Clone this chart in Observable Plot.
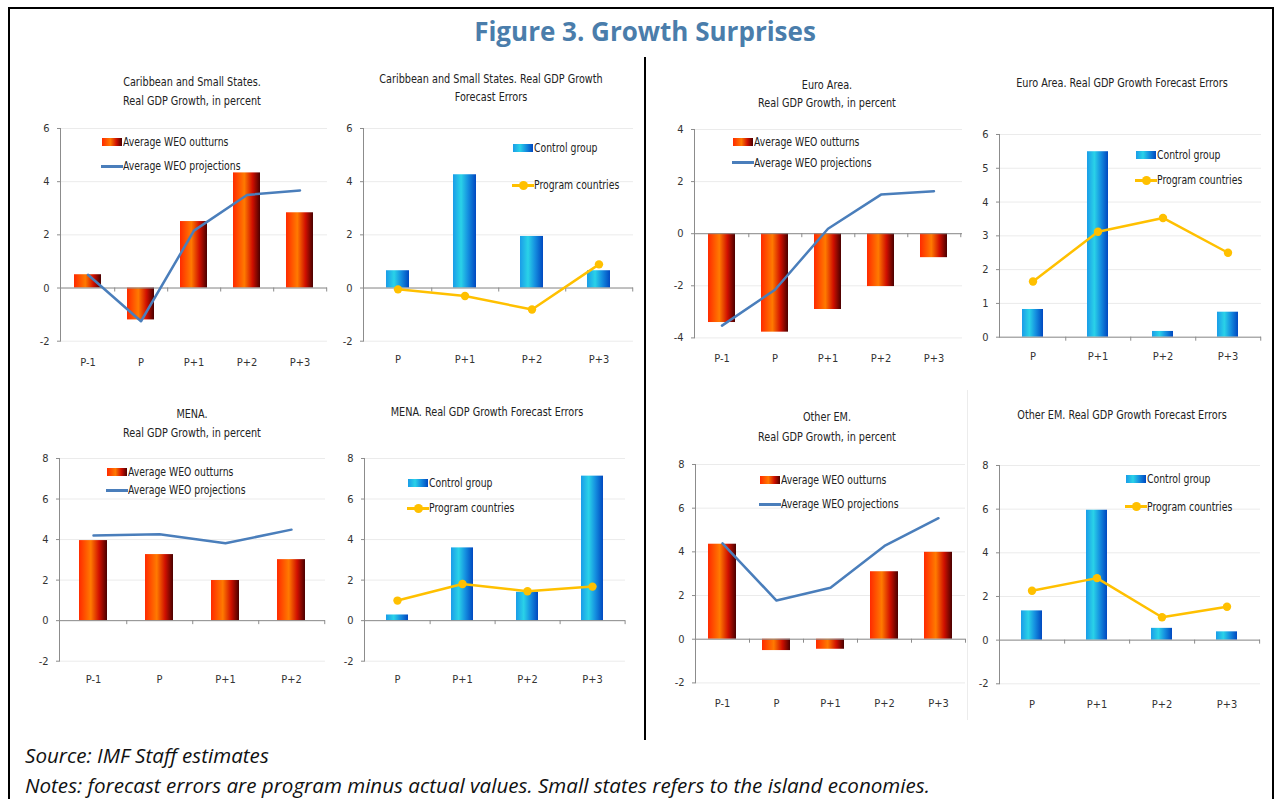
<!DOCTYPE html>
<html>
<head>
<meta charset="utf-8">
<script src="https://cdn.jsdelivr.net/npm/d3@7"></script>
<script src="https://cdn.jsdelivr.net/npm/@observablehq/plot@0.6"></script>
<style>
  html, body { margin: 0; padding: 0; background: #fff; }
  #root { position: relative; width: 1280px; height: 799px; overflow: hidden; background: #fff; }
  .abs { position: absolute; }
  .ct { position: absolute; width: 320px; text-align: center; font-family: "Liberation Sans Narrow","DejaVu Sans Condensed","Arial Narrow",sans-serif; font-size: 12.5px; line-height: 14px; color: #222; white-space: nowrap; transform: scaleX(0.86); transform-origin: 50% 50%; }
  .lg { position: absolute; font-family: "Liberation Sans Narrow","DejaVu Sans Condensed","Arial Narrow",sans-serif; font-size: 12px; line-height: 14px; color: #222; white-space: nowrap; transform: scaleX(0.86); transform-origin: 0 50%; }
</style>
</head>
<body>
<div id="root"></div>
<script>
// ---------------- DATA ----------------
const growthCats5 = ["P-1", "P", "P+1", "P+2", "P+3"];
const growthCats4 = ["P-1", "P", "P+1", "P+2"];
const errorCats = ["P", "P+1", "P+2", "P+3"];

const caribOutturns = [0.5, -1.2, 2.5, 4.33, 2.83];
const caribProjections = [0.5, -1.25, 2.16, 3.5, 3.67];
const caribControl = [0.65, 4.26, 1.94, 0.65];
const caribProgram = [-0.05, -0.3, -0.81, 0.89];

const euroOutturns = [-3.41, -3.78, -2.91, -2.03, -0.92];
const euroProjections = [-3.53, -2.15, 0.19, 1.5, 1.63];
const euroControl = [0.82, 5.49, 0.17, 0.74];
const euroProgram = [1.65, 3.12, 3.53, 2.5];

const menaOutturns = [3.95, 3.26, 1.98, 3.01];
const menaProjections = [4.2, 4.26, 3.82, 4.49];
const menaControl = [0.28, 3.59, 1.4, 7.13];
const menaProgram = [0.99, 1.81, 1.45, 1.68];

const emOutturns = [4.35, -0.52, -0.46, 3.09, 3.98];
const emProjections = [4.39, 1.77, 2.36, 4.27, 5.54];
const emControl = [1.34, 5.95, 0.54, 0.38];
const emProgram = [2.26, 2.84, 1.05, 1.53];

const ticksM2to6 = [-2, 0, 2, 4, 6];
const ticksM4to4 = [-4, -2, 0, 2, 4];
const ticks0to6 = [0, 1, 2, 3, 4, 5, 6];
const ticksM2to8 = [-2, 0, 2, 4, 6, 8];

const growthLegend = ["Average WEO outturns", "Average WEO projections"];
const errorLegend = ["Control group", "Program countries"];

const figureTitle = "Figure 3. Growth Surprises";
const sourceText = "Source: IMF Staff estimates";
const notesText = "Notes: forecast errors are program minus actual values. Small states refers to the island economies.";

// ---------------- STYLE ----------------
const FONT = '"Liberation Sans Narrow","DejaVu Sans Condensed","Arial Narrow",sans-serif';
const LINE_BLUE = "#4a7ebb";
const LINE_YELLOW = "#ffc000";
const AXIS = "#8c8c8c";
const RED_GRAD = "linear-gradient(to right, #ff2a00 0%, #ff7a00 42%, #d01000 72%, #4a0000 100%)";
const BLUE_GRAD = "linear-gradient(to right, #1a9ce8 0%, #2ad2e8 35%, #1590e0 65%, #0048c0 100%)";

const root = document.getElementById("root");

// gradient defs shared by all charts
root.insertAdjacentHTML("beforeend", `
<svg width="0" height="0" style="position:absolute;left:0;top:0">
  <defs>
    <linearGradient id="redGrad" x1="0" y1="0" x2="1" y2="0">
      <stop offset="0%" stop-color="#ff2a00"/>
      <stop offset="42%" stop-color="#ff7a00"/>
      <stop offset="72%" stop-color="#d01000"/>
      <stop offset="100%" stop-color="#4a0000"/>
    </linearGradient>
    <linearGradient id="blueGrad" x1="0" y1="0" x2="1" y2="0">
      <stop offset="0%" stop-color="#1a9ce8"/>
      <stop offset="35%" stop-color="#2ad2e8"/>
      <stop offset="65%" stop-color="#1590e0"/>
      <stop offset="100%" stop-color="#0048c0"/>
    </linearGradient>
  </defs>
</svg>`);

// frame & title & divider
function addDiv(style, text) {
  const d = document.createElement("div");
  d.className = "abs";
  d.setAttribute("style", style);
  if (text != null) d.textContent = text;
  root.appendChild(d);
  return d;
}
addDiv("left:8px;top:7px;width:1262px;height:820px;border-left:2.5px solid #000;border-top:2.5px solid #000;border-right:2.5px solid #000;");
addDiv("left:0;top:13px;width:1290px;text-align:center;font-family:'Open Sans',Lato,sans-serif;font-weight:bold;font-size:26px;line-height:36px;color:#4a7dab;", figureTitle);
addDiv("left:644px;top:57px;width:1.5px;height:683px;background:#000;");
addDiv("left:967px;top:390px;width:1px;height:330px;background:#ececec;");
addDiv("left:25px;top:741px;font-family:'Open Sans',Lato,sans-serif;font-style:italic;font-size:20.6px;line-height:28px;color:#111;white-space:nowrap;", sourceText);
addDiv("left:25px;top:771px;font-family:'Open Sans',Lato,sans-serif;font-style:italic;font-size:20.6px;line-height:28px;color:#111;white-space:nowrap;", notesText);

function addTitle(cx, lines) {
  lines.forEach(([text, y]) => {
    const d = document.createElement("div");
    d.className = "ct";
    d.style.left = (cx - 160) + "px";
    d.style.top = (y - 7) + "px";
    d.textContent = text;
    root.appendChild(d);
  });
}

function addLegend(sx, sy, ly, labels, isError) {
  const sw = document.createElement("div");
  sw.className = "abs";
  sw.setAttribute("style", `left:${sx}px;top:${sy - 4}px;width:20px;height:8px;background:${isError ? BLUE_GRAD : RED_GRAD};`);
  root.appendChild(sw);
  const t1 = document.createElement("div");
  t1.className = "lg";
  t1.style.left = (sx + 21) + "px";
  t1.style.top = (sy - 7) + "px";
  t1.textContent = labels[0];
  root.appendChild(t1);
  const ln = document.createElement("div");
  ln.className = "abs";
  ln.setAttribute("style", `left:${sx - 1}px;top:${ly - 1.5}px;width:22px;height:3px;background:${isError ? LINE_YELLOW : LINE_BLUE};`);
  root.appendChild(ln);
  if (isError) {
    const dt = document.createElement("div");
    dt.className = "abs";
    dt.setAttribute("style", `left:${sx + 6}px;top:${ly - 4.5}px;width:9px;height:9px;border-radius:50%;background:${LINE_YELLOW};`);
    root.appendChild(dt);
  }
  const t2 = document.createElement("div");
  t2.className = "lg";
  t2.style.left = (sx + 21) + "px";
  t2.style.top = (ly - 7) + "px";
  t2.textContent = labels[1];
  root.appendChild(t2);
}

function addPanel(cfg) {
  const {x0, x1, yTop, yBot, domain, ticks, cats, barVals, lineVals, isError, padding, labelOff} = cfg;
  const mL = 40, mR = 10, mT = 10, mB = 32;
  const W = x1 - x0 + mL + mR, H = yBot - yTop + mT + mB;
  const data = cats.map((c, i) => ({cat: c, bar: barVals[i], line: lineVals[i]}));
  const step = (x1 - x0) / cats.length;
  const lineColor = isError ? LINE_YELLOW : LINE_BLUE;
  const chart = Plot.plot({
    width: W, height: H,
    marginLeft: mL, marginRight: mR, marginTop: mT, marginBottom: mB,
    x: {type: "band", domain: cats, paddingInner: padding, paddingOuter: padding / 2, label: null},
    y: {domain, label: null},
    style: {fontFamily: FONT, fontSize: "11px", color: "#333", background: "transparent", overflow: "visible"},
    marks: [
      Plot.gridY({ticks, stroke: "#ebebeb", strokeOpacity: 1}),
      Plot.barY(data, {x: "cat", y1: 0, y2: "bar", fill: isError ? "url(#blueGrad)" : "url(#redGrad)"}),
      Plot.ruleY([0], {stroke: AXIS, strokeWidth: 1}),
      Plot.ruleX(cats, {x: d => d, y1: 0, y2: 0, dx: step / 2, insetBottom: -4, stroke: AXIS}),
      Plot.frame({anchor: "left", stroke: AXIS}),
      Plot.axisY({ticks, tickSize: 3, tickPadding: 8, stroke: AXIS, tickFormat: d => String(d)}),
      Plot.axisX({tickSize: 0, tickPadding: labelOff - 4}),
      Plot.line(data, {x: "cat", y: "line", stroke: lineColor, strokeWidth: 2.5}),
      ...(isError ? [Plot.dot(data, {x: "cat", y: "line", r: 4.2, fill: lineColor, stroke: "none"})] : [])
    ]
  });
  chart.style.position = "absolute";
  chart.style.left = (x0 - mL) + "px";
  chart.style.top = (yTop - mT) + "px";
  root.appendChild(chart);
}

// -------- Panel 1: Caribbean growth --------
addPanel({x0: 60, x1: 327, yTop: 128.3, yBot: 341, domain: [-2, 6], ticks: ticksM2to6, cats: growthCats5,
  barVals: caribOutturns, lineVals: caribProjections, isError: false, padding: 0.49, labelOff: 20.5});
addTitle(191.7, [["Caribbean and Small States.", 81.7], ["Real GDP Growth, in percent", 100.7]]);
addLegend(102, 141.7, 166, growthLegend, false);

// -------- Panel 2: Caribbean errors --------
addPanel({x0: 363, x1: 633, yTop: 128.3, yBot: 341, domain: [-2, 6], ticks: ticksM2to6, cats: errorCats,
  barVals: caribControl, lineVals: caribProgram, isError: true, padding: 0.66, labelOff: 18});
addTitle(490.7, [["Caribbean and Small States. Real GDP Growth", 79.3], ["Forecast Errors", 97.3]]);
addLegend(513, 148.3, 185, errorLegend, true);

// -------- Panel 3: Euro growth --------
addPanel({x0: 694, x1: 962, yTop: 129.3, yBot: 337.7, domain: [-4, 4], ticks: ticksM4to4, cats: growthCats5,
  barVals: euroOutturns, lineVals: euroProjections, isError: false, padding: 0.49, labelOff: 20});
addTitle(826.7, [["Euro Area.", 85], ["Real GDP Growth, in percent", 102.7]]);
addLegend(733, 141.7, 162.7, growthLegend, false);

// -------- Panel 4: Euro errors --------
addPanel({x0: 999, x1: 1261, yTop: 134, yBot: 336.7, domain: [0, 6], ticks: ticks0to6, cats: errorCats,
  barVals: euroControl, lineVals: euroProgram, isError: true, padding: 0.67, labelOff: 18.5});
addTitle(1121.7, [["Euro Area. Real GDP Growth Forecast Errors", 82.7]]);
addLegend(1136, 155, 180, errorLegend, true);

// -------- Panel 5: MENA growth --------
addPanel({x0: 59, x1: 325, yTop: 458.3, yBot: 661, domain: [-2, 8], ticks: ticksM2to8, cats: growthCats4,
  barVals: menaOutturns, lineVals: menaProjections, isError: false, padding: 0.58, labelOff: 17.5});
addTitle(191.7, [["MENA.", 414], ["Real GDP Growth, in percent", 432.7]]);
addLegend(107, 471.7, 490, growthLegend, false);

// -------- Panel 6: MENA errors --------
addPanel({x0: 364, x1: 625, yTop: 458.3, yBot: 661, domain: [-2, 8], ticks: ticksM2to8, cats: errorCats,
  barVals: menaControl, lineVals: menaProgram, isError: true, padding: 0.66, labelOff: 17.5});
addTitle(487.3, [["MENA. Real GDP Growth Forecast Errors", 411.7]]);
addLegend(408, 483.3, 508.3, errorLegend, true);

// -------- Panel 7: Other EM growth --------
addPanel({x0: 695, x1: 965, yTop: 464.3, yBot: 682.7, domain: [-2, 8], ticks: ticksM2to8, cats: growthCats5,
  barVals: emOutturns, lineVals: emProjections, isError: false, padding: 0.49, labelOff: 20.5});
addTitle(826.7, [["Other EM.", 417.3], ["Real GDP Growth, in percent", 436.7]]);
addLegend(760, 480, 504.3, growthLegend, false);

// -------- Panel 8: Other EM errors --------
addPanel({x0: 999, x1: 1260, yTop: 465, yBot: 683.3, domain: [-2, 8], ticks: ticksM2to8, cats: errorCats,
  barVals: emControl, lineVals: emProgram, isError: true, padding: 0.67, labelOff: 20});
addTitle(1121.7, [["Other EM. Real GDP Growth Forecast Errors", 415]]);
addLegend(1126, 479.3, 506.7, errorLegend, true);
</script>
</body>
</html>
